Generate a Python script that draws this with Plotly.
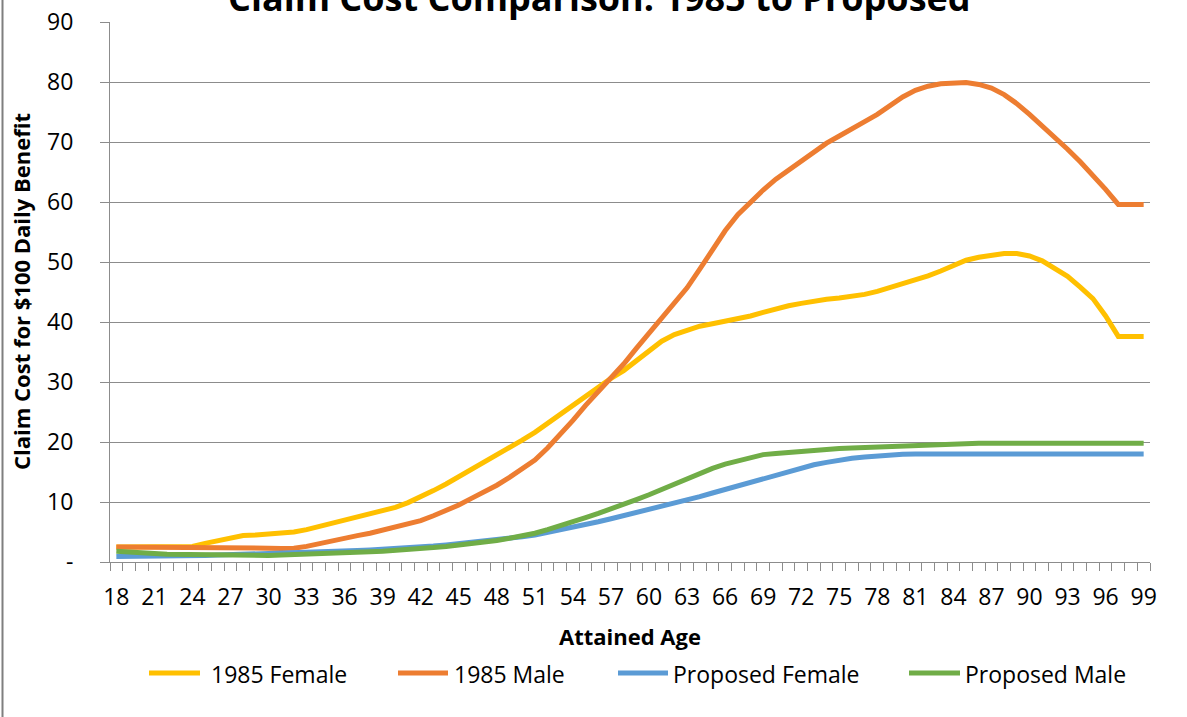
import plotly.graph_objects as go

# ---------------- data ----------------
ages = list(range(18, 100))
tick_ages = list(range(18, 100, 3))
series_names = ["1985 Female", "1985 Male", "Proposed Female", "Proposed Male"]

female_1985 = [2.5, 2.5, 2.5, 2.5, 2.5, 2.5, 2.6, 3.1, 3.6, 4.1,
               4.4, 4.5, 4.6, 4.8, 5.0, 5.4, 5.9, 6.4, 7.0, 7.5,
               8.0, 8.5, 9.1, 9.9, 10.8, 11.9, 13.0, 14.2, 15.4, 16.6,
               17.7, 19.0, 20.3, 21.6, 23.1, 24.7, 26.3, 27.8, 29.1, 30.6,
               31.9, 33.6, 35.2, 36.8, 37.9, 38.7, 39.3, 39.7, 40.1, 40.5,
               41.0, 41.6, 42.2, 42.7, 43.1, 43.5, 43.8, 44.0, 44.2, 44.6,
               45.1, 45.7, 46.3, 47.0, 47.7, 48.5, 49.5, 50.3, 50.8, 51.2,
               51.4, 51.4, 51.0, 50.2, 49.0, 47.6, 45.8, 43.9, 41.0, 37.6,
               37.6, 37.6]
male_1985 = [2.5, 2.5, 2.5, 2.5, 2.5, 2.5, 2.5, 2.5, 2.5, 2.5,
             2.5, 2.4, 2.3, 2.25, 2.3, 2.6, 3.1, 3.6, 4.0, 4.4,
             4.8, 5.3, 5.7, 6.2, 6.9, 7.7, 8.5, 9.5, 10.6, 11.6,
             12.8, 14.1, 15.5, 17.0, 19.0, 21.2, 23.6, 26.1, 28.4, 30.6,
             33.0, 35.6, 38.1, 40.4, 43.0, 45.7, 48.8, 52.0, 55.2, 57.9,
             60.0, 62.0, 63.8, 65.3, 66.8, 68.4, 69.8, 71.0, 72.1, 73.4,
             74.6, 76.0, 77.5, 78.6, 79.3, 79.7, 79.9, 79.9, 79.6, 79.0,
             77.9, 76.4, 74.6, 72.7, 70.8, 68.8, 66.7, 64.5, 62.1, 59.6,
             59.6, 59.6]
female_proposed = [0.9, 0.9, 0.9, 0.95, 1.0, 1.0, 1.05, 1.1, 1.15, 1.2,
                   1.25, 1.3, 1.35, 1.4, 1.45, 1.5, 1.6, 1.7, 1.8, 1.9,
                   2.0, 2.1, 2.2, 2.35, 2.5, 2.65, 2.85, 3.05, 3.25, 3.45,
                   3.65, 3.9, 4.2, 4.5, 4.9, 5.3, 5.8, 6.3, 6.7, 7.2,
                   7.7, 8.2, 8.7, 9.2, 9.8, 10.3, 10.9, 11.5, 12.1, 12.7,
                   13.4, 14.0, 14.6, 15.2, 15.7, 16.2, 16.6, 17.0, 17.3, 17.5,
                   17.7, 17.85, 17.95, 18.0, 18.0, 18.0, 18.0, 18.0, 18.0, 18.0,
                   18.0, 18.0, 18.0, 18.0, 18.0, 18.0, 18.0, 18.0, 18.0, 18.0,
                   18.0, 18.0]
male_proposed = [1.8, 1.6, 1.5, 1.4, 1.3, 1.25, 1.2, 1.15, 1.1, 1.1,
                 1.1, 1.1, 1.1, 1.15, 1.2, 1.25, 1.3, 1.4, 1.5, 1.6,
                 1.7, 1.8, 1.9, 2.0, 2.2, 2.4, 2.6, 2.8, 3.05, 3.3,
                 3.6, 3.95, 4.3, 4.8, 5.4, 6.0, 6.7, 7.4, 8.1, 8.8,
                 9.6, 10.4, 11.2, 12.1, 13.0, 13.9, 14.8, 15.6, 16.3, 16.9,
                 17.4, 17.9, 18.1, 18.3, 18.45, 18.6, 18.75, 18.9, 19.0, 19.1,
                 19.2, 19.3, 19.4, 19.5, 19.6, 19.7, 19.75, 19.8, 19.8, 19.8,
                 19.8, 19.8, 19.8, 19.8, 19.8, 19.8, 19.8, 19.8, 19.8, 19.8,
                 19.8, 19.8]

y_ticks = [0, 10, 20, 30, 40, 50, 60, 70, 80, 90]
y_ticktext = ["-"] + [str(v) for v in y_ticks[1:]]

colors = ["#FFC000", "#ED7D31", "#5B9BD5", "#70AD47"]
all_series = [female_1985, male_1985, female_proposed, male_proposed]

# ---------------- layout geometry (page pixels) ----------------
W, H = 1187, 717
PLOT_L, PLOT_R, PLOT_T, PLOT_B = 110, 1150, 22, 562   # target plot box on the page
PW = PLOT_R - PLOT_L
PH = PLOT_B - PLOT_T
ML = PLOT_L
MT = PLOT_T
MR = W - ML - PW
MB = H - MT - PH
FONT = "Open Sans"
GRID = "#8c8c8c"


def pxx(px):
    return (px - PLOT_L) / PW


def pxy(py):
    return (PLOT_B - py) / PH


fig = go.Figure()
for name, vals, col in zip(series_names, all_series, colors):
    fig.add_trace(go.Scatter(x=ages, y=vals, mode="lines", name=name,
                             line=dict(color=col, width=5),
                             showlegend=False))

annotations = []
shapes = []

# title (partly cut off at the top, as in the reference)
annotations.append(dict(text="Claim Cost Comparison: 1985 to Proposed",
                        xref="paper", yref="paper", x=pxx(599), y=pxy(-2.5),
                        xanchor="center", yanchor="middle", showarrow=False,
                        font=dict(family=FONT, size=36, color="black", weight="bold")))
# axis titles
annotations.append(dict(text="Attained Age", xref="paper", yref="paper",
                        x=pxx(630), y=pxy(636), xanchor="center", yanchor="middle",
                        showarrow=False,
                        font=dict(family=FONT, size=22, color="black", weight="bold")))
annotations.append(dict(text="Claim Cost for $100 Daily Benefit", xref="paper", yref="paper",
                        x=pxx(21), y=pxy(292), xanchor="center", yanchor="middle",
                        textangle=-90, showarrow=False,
                        font=dict(family=FONT, size=22, color="black", weight="bold")))

# custom legend (long line samples like the reference)
legend_line_x = [(149, 200), (398, 448), (618, 668), (909, 960)]
legend_text_x = [209, 452, 671, 963]
for name, col, (x0, x1), tx in zip(series_names, colors, legend_line_x, legend_text_x):
    shapes.append(dict(type="line", xref="paper", yref="paper",
                       x0=pxx(x0), x1=pxx(x1), y0=pxy(673), y1=pxy(673),
                       line=dict(color=col, width=5)))
    annotations.append(dict(text=name, xref="paper", yref="paper",
                            x=pxx(tx), y=pxy(674), xanchor="left", yanchor="middle",
                            showarrow=False,
                            font=dict(family=FONT, size=23, color="black")))

# chart-area border on the left edge
shapes.append(dict(type="line", xref="paper", yref="paper",
                   x0=pxx(2.5), x1=pxx(2.5), y0=pxy(-5), y1=pxy(H + 5),
                   line=dict(color="#7f7f7f", width=2)))

fig.update_layout(
    width=W, height=H,
    margin=dict(l=ML, r=MR, t=MT, b=MB, pad=0, autoexpand=False),
    paper_bgcolor="white", plot_bgcolor="white",
    font=dict(family=FONT, size=23, color="black"),
    showlegend=False,
    annotations=annotations,
    shapes=shapes,
    xaxis=dict(range=[17.5, 99.5], tickmode="array", tickvals=tick_ages,
               ticktext=[str(a) for a in tick_ages], ticks="", showgrid=False,
               zeroline=False, showline=True, linecolor=GRID, linewidth=1,
               automargin=False, ticklabeloverflow="allow",
               tickfont=dict(family=FONT, size=23, color="black"),
               ticklabelstandoff=14,
               minor=dict(tickmode="linear", tick0=17.5, dtick=1, ticks="outside",
                          ticklen=8, tickcolor=GRID, tickwidth=1, showgrid=False)),
    yaxis=dict(range=[0, 90], tickmode="array", tickvals=y_ticks, ticktext=y_ticktext,
               ticks="outside", ticklen=9, tickcolor=GRID, tickwidth=1,
               showgrid=True, gridcolor=GRID, gridwidth=1, zeroline=False,
               showline=True, linecolor=GRID, linewidth=1, automargin=False,
               ticklabeloverflow="allow",
               tickfont=dict(family=FONT, size=23, color="black"),
               ticklabelstandoff=22),
)

fig.write_html("out.html", config={"displayModeBar": False},
               post_script="document.body.style.margin='0';document.body.style.overflow='hidden';")
